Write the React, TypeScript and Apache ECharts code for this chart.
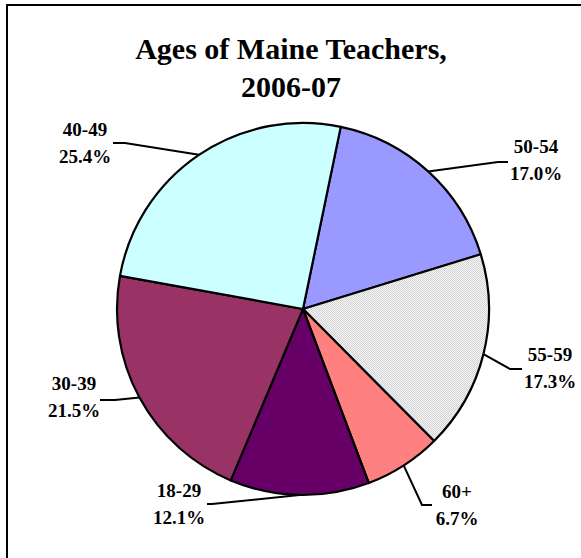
import React, { useEffect, useRef } from 'react';
import * as echarts from 'echarts';

// ---- data ----
const categories = ['50-54', '55-59', '60+', '18-29', '30-39', '40-49'];
const percents = [17.0, 17.3, 6.7, 12.1, 21.5, 25.4];
const titleLines = ['Ages of Maine Teachers,', '2006-07'];

// ---- styles / layout ----
const PATTERN = 'pattern';
const sliceColors = ['#9999FF', PATTERN, '#FF8080', '#660066', '#993366', '#CCFFFF'];
const CENTER: [number, number] = [303, 309];
const RADIUS = 186;
const START_ANGLE = 78.3; // degrees, ECharts convention
const FONT = 'Liberation Serif';

// label text centre, bend point and end point of leader line
const labelPlacement = [
  { tx: 536, ty: 160, bend: [498, 162], end: [508, 162] },
  { tx: 550, ty: 368, bend: [510, 369], end: [522, 369] },
  { tx: 457, ty: 505, bend: [422, 505], end: [432, 505] },
  { tx: 179, ty: 504, bend: [212, 504], end: [207, 504] },
  { tx: 74, ty: 397, bend: [115, 400], end: [100, 400] },
  { tx: 85, ty: 143, bend: [125, 143], end: [113, 143] },
];

function makePattern() {
  const c = document.createElement('canvas');
  c.width = 2;
  c.height = 2;
  const ctx = c.getContext('2d')!;
  ctx.fillStyle = '#F6F6F6';
  ctx.fillRect(0, 0, 2, 2);
  ctx.fillStyle = '#D2D2D2';
  ctx.fillRect(0, 0, 1, 1);
  ctx.fillRect(1, 1, 1, 1);
  return { image: c, repeat: 'repeat' };
}

function edgePoint(i: number): number[] {
  const total = percents.reduce((a, b) => a + b, 0);
  let before = 0;
  for (let k = 0; k < i; k++) before += percents[k];
  const startFromTop = 90 - START_ANGLE;
  const mid = startFromTop + ((before + percents[i] / 2) / total) * 360;
  const rad = (mid * Math.PI) / 180;
  return [CENTER[0] + RADIUS * Math.sin(rad), CENTER[1] - RADIUS * Math.cos(rad)];
}

export default function App() {
  const ref = useRef<HTMLDivElement>(null);
  useEffect(() => {
    if (!ref.current) return;
    const chart = echarts.init(ref.current, undefined, { renderer: 'svg' });
    const pattern = makePattern();
    chart.setOption({
      animation: false,
      backgroundColor: '#FFFFFF',
      textStyle: { fontFamily: FONT },
      graphic: [
        {
          type: 'rect',
          shape: { x: 7, y: 5, width: 800, height: 800 },
          style: { fill: 'none', stroke: '#000000', lineWidth: 2 },
          silent: true,
        },
        {
          type: 'text',
          x: 291,
          y: 67,
          style: {
            text: titleLines.join('\n'),
            textAlign: 'center',
            textVerticalAlign: 'middle',
            font: `bold 30px ${FONT}`,
            lineHeight: 38,
            fill: '#000000',
          },
          silent: true,
        },
      ],
      series: [
        {
          type: 'pie',
          center: CENTER,
          radius: RADIUS,
          startAngle: START_ANGLE,
          clockwise: true,
          silent: true,
          emphasis: { disabled: true },
          itemStyle: { borderColor: '#000000', borderWidth: 2.2 },
          label: {
            show: true,
            position: 'outside',
            overflow: 'none',
            formatter: (p: any) => `${p.name}\n${Number(p.value).toFixed(1)}%`,
            fontFamily: FONT,
            fontWeight: 'bold',
            fontSize: 19,
            lineHeight: 27,
            color: '#000000',
          },
          labelLine: { show: true, lineStyle: { color: '#000000', width: 2 } },
          labelLayout: (params: any) => {
            const lp = labelPlacement[params.dataIndex];
            return {
              x: lp.tx,
              y: lp.ty,
              align: 'center',
              verticalAlign: 'middle',
              labelLinePoints: [edgePoint(params.dataIndex), lp.bend, lp.end],
            };
          },
          data: categories.map((name, i) => ({
            name,
            value: percents[i],
            itemStyle: { color: sliceColors[i] === PATTERN ? pattern : sliceColors[i] },
          })),
        },
      ],
    });
    return () => chart.dispose();
  }, []);
  return (
    <div
      ref={ref}
      style={{ position: 'fixed', left: 0, top: 0, width: 581, height: 558 }}
    />
  );
}
